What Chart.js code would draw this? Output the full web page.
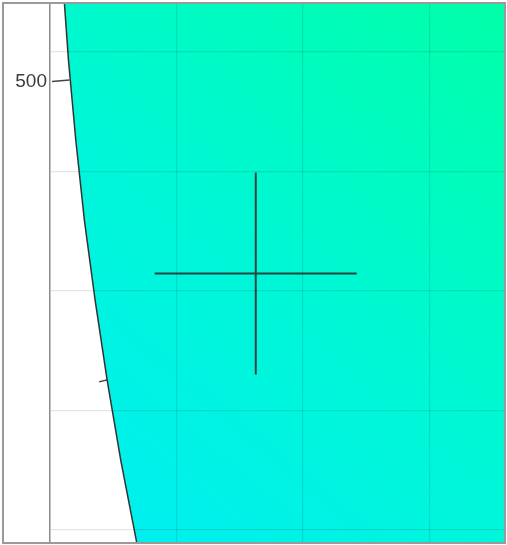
<!DOCTYPE html>
<html>
<head>
<meta charset="utf-8">
<script src="https://cdn.jsdelivr.net/npm/chart.js@4"></script>
<style>
  html, body { margin: 0; padding: 0; background: #fff; }
  #wrap { position: relative; width: 507px; height: 545px; }
  #frame { position: absolute; left: 2px; top: 2px; width: 500px; height: 538px; border: 2px solid #9a9a9a; pointer-events: none; }
</style>
</head>
<body>
<div id="wrap">
  <canvas id="c" width="507" height="545"></canvas>
  <div id="frame"></div>
</div>
<script>
// Boundary curve (x, y) of the filled region
const curveX = [10.1, 14.6, 20.4, 27.2, 35.7, 45.2, 56.0, 71.2];
const curveY = [460, 393, 326, 259, 192, 125, 58, -25];
// Far corners closing the filled region on the right
const cornerX = [500, 500];
const cornerY = [-25, 460];
// Small tick marks sitting on the curve
const tick1X = [1.6, 15.4];
const tick1Y = [375.2, 376.5];
const tick2X = [38.8, 45.5];
const tick2Y = [123.8, 125.6];
// Crosshair marker
const crossX = [162.7];
const crossY = [214.4];
// Axis ranges / ticks
const xGridTicks = [0, 100, 200, 300];
const yGridTicks = [0, 100, 200, 300, 400];
const yLabelTicks = [500];
const yLabelText = ['500'];

const pts = (xs, ys) => xs.map((x, i) => ({ x: x, y: ys[i] }));
const shapePts = pts(curveX, curveY).concat(pts(cornerX, cornerY));

function gradientFill(ctx) {
  const chart = ctx.chart;
  const a = chart.chartArea;
  if (!a) return '#00f6d8';
  const g = chart.ctx.createLinearGradient(a.left, a.bottom, a.right, a.top);
  g.addColorStop(0, '#00eef4');
  g.addColorStop(0.5, '#00f7d6');
  g.addColorStop(1, '#00ffa8');
  return g;
}

new Chart(document.getElementById('c'), {
  type: 'scatter',
  data: {
    datasets: [
      {
        data: shapePts,
        showLine: true,
        fill: 'shape',
        backgroundColor: gradientFill,
        borderColor: '#333333',
        borderWidth: 1.5,
        pointRadius: 0,
        tension: 0,
        order: 3
      },
      {
        data: pts(tick1X, tick1Y),
        showLine: true,
        borderColor: '#444444',
        borderWidth: 1.5,
        pointRadius: 0,
        order: 2
      },
      {
        data: pts(tick2X, tick2Y),
        showLine: true,
        borderColor: '#444444',
        borderWidth: 1.5,
        pointRadius: 0,
        order: 2
      },
      {
        data: pts(crossX, crossY),
        pointStyle: 'cross',
        pointRadius: 101,
        pointBorderWidth: 2,
        pointBorderColor: 'rgba(45,50,50,0.9)',
        pointBackgroundColor: 'rgba(0,0,0,0)',
        clip: false,
        order: 1
      }
    ]
  },
  options: {
    responsive: false,
    animation: false,
    events: [],
    layout: { autoPadding: false, padding: { top: 4, right: 3, bottom: 2, left: 0 } },
    plugins: { legend: { display: false }, tooltip: { enabled: false } },
    scales: {
      x: {
        type: 'linear',
        min: 0,
        max: 359,
        afterBuildTicks: (s) => { s.ticks = xGridTicks.map(v => ({ value: v })); },
        afterFit: (s) => { s.height = 0; s.paddingLeft = 0; s.paddingRight = 0; },
        ticks: { display: false },
        grid: { color: 'rgba(0,0,0,0.1)', lineWidth: 1.2, drawTicks: false, z: 1 },
        border: { display: false }
      },
      y: {
        type: 'linear',
        position: 'left',
        min: -11,
        max: 440,
        weight: 0,
        afterBuildTicks: (s) => { s.ticks = yGridTicks.map(v => ({ value: v })); },
        afterFit: (s) => { s.width = 0; s.paddingTop = 0; s.paddingBottom = 0; },
        ticks: { display: false },
        grid: { color: 'rgba(0,0,0,0.1)', lineWidth: 1.2, drawTicks: false, z: 1 },
        border: { display: true, color: '#8c8c8c', width: 1.5, z: 1 }
      },
      yl: {
        type: 'linear',
        position: 'left',
        min: 346,
        max: 526,
        weight: 1,
        afterBuildTicks: (s) => { s.ticks = yLabelTicks.map(v => ({ value: v })); },
        afterFit: (s) => { s.width = 50; s.paddingTop = 0; s.paddingBottom = 0; },
        ticks: {
          padding: 3,
          color: '#3c3c3c',
          font: { family: 'Liberation Sans', size: 19 },
          callback: (v, i) => yLabelText[i]
        },
        grid: { display: false, drawTicks: false, tickLength: 0 },
        border: { display: false }
      }
    }
  }
});
</script>
</body>
</html>
